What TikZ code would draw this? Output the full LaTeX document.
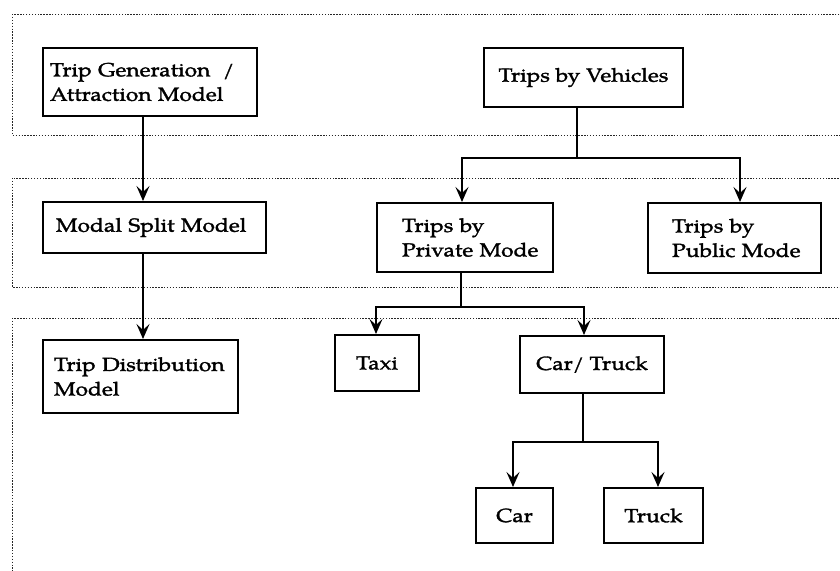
\documentclass[tikz,border=0pt]{standalone}
\usepackage{fontspec}
\setmainfont{texgyrepagella-regular.otf}[FakeStretch=1.2, FakeBold=1.6]
\usetikzlibrary{arrows.meta}
\begin{document}
\begin{tikzpicture}[x=1pt,y=-1pt,
  band/.style={draw=black!85, line width=1pt, dash pattern=on 1.4pt off 1.5pt},
  box/.style={draw, line width=2pt, inner ysep=0pt, font=\fontsize{19}{24.5}\selectfont},
  conn/.style={line width=2pt},
  arr/.style={conn, -{Stealth[length=15pt,width=13pt,inset=6pt]}}]
\useasboundingbox (0,0) rectangle (840,570);
\clip (0,0) rectangle (840,570);
\fill[white] (0,0) rectangle (840,570);

% the three dotted stages
\draw[band] (12,14) rectangle (860,135);
\draw[band] (12,178) rectangle (860,287);
\draw[band] (12,318) rectangle (860,600);

% model chain on the left
\node[box, minimum height=68pt, text width=200pt, inner xsep=7pt, align=left]
  (gen) at (150,82) {Trip Generation~ /\\Attraction Model};
\node[box, minimum height=51pt, text width=197pt, inner xsep=13pt, align=left]
  (modal) at (154.5,227.5) {Modal Split Model};
\node[box, minimum height=73pt, text width=173pt, inner xsep=11pt, align=left]
  (dist) at (140.5,376.5) {\mbox{Trip Distribution}\\Model};

% trip tree
\node[box, minimum width=199pt, minimum height=59pt, inner xsep=0pt, align=center]
  (veh) at (583.5,77.5) {Trips by Vehicles};
\node[box, minimum height=69pt, text width=126pt, inner xsep=25pt, align=left]
  (priv) at (465,237.5) {\mbox{Trips by}\\\mbox{Private Mode}};
\node[box, minimum height=70pt, text width=125pt, inner xsep=24pt, align=left]
  (pub) at (734.5,238) {\mbox{Trips by}\\\mbox{Public Mode}};
\node[box, minimum width=84pt, minimum height=56pt, inner xsep=0pt]
  (taxi) at (377,363) {Taxi};
\node[box, minimum width=144pt, minimum height=57pt, inner xsep=0pt]
  (cartruck) at (592,364.5) {Car/ Truck};
\node[box, minimum width=77pt, minimum height=55pt, inner xsep=0pt]
  (car) at (514.5,515.5) {Car};
\node[box, minimum width=99pt, minimum height=55pt, inner xsep=0pt]
  (truck) at (653.5,515.5) {Truck};

% connectors
\coordinate (xl) at (143,0);
\draw[arr] (gen.south -| xl) -- (modal.north -| xl);
\draw[arr] (modal.south -| xl) -- (dist.north -| xl);

\coordinate (j1) at (577,158);
\coordinate (k1) at (462,0);
\coordinate (k2) at (740,0);
\draw[arr] (veh.south -| j1) -- (j1) -| (priv.north -| k1);
\draw[arr] (j1) -| (pub.north -| k2);

\coordinate (j2) at (461,307);
\coordinate (k3) at (376,0);
\coordinate (k4) at (584,0);
\draw[arr] (priv.south -| j2) -- (j2) -| (taxi.north -| k3);
\draw[arr] (j2) -| (cartruck.north -| k4);

\coordinate (j3) at (583,442);
\coordinate (k5) at (513,0);
\coordinate (k6) at (658,0);
\draw[arr] (cartruck.south -| j3) -- (j3) -| (car.north -| k5);
\draw[arr] (j3) -| (truck.north -| k6);
\end{tikzpicture}
\end{document}
